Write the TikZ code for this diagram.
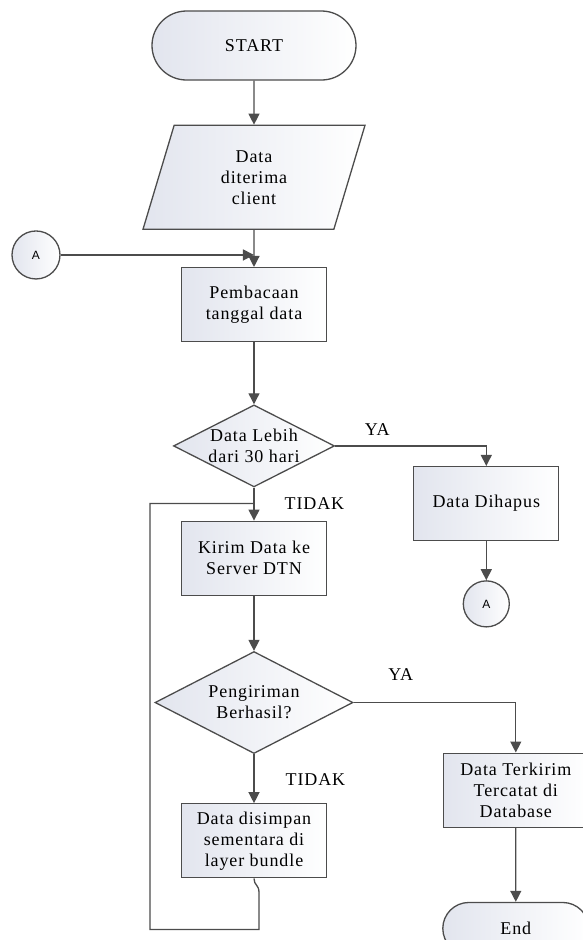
\documentclass[tikz,border=0pt]{standalone}
\usepackage{fontspec}
\setmainfont{Liberation Serif}[LetterSpace=5]
\newfontfamily\conafont{Liberation Sans}
\usetikzlibrary{shapes.geometric,shapes.misc,arrows.meta,positioning,calc}
\colorlet{lineC}{black!70}
\definecolor{shadeC}{RGB}{226,229,238}

\begin{document}
\begin{tikzpicture}[>={Triangle[length=11pt,width=11pt]}, node distance=40pt, line width=1.3pt, font=\fontsize{18}{21}\selectfont]
\useasboundingbox (-254pt,45.5pt) rectangle (329pt,-894.5pt);
\tikzstyle{box}=[draw=lineC, left color=shadeC, right color=white, text=black, align=center, inner sep=0pt]
\tikzstyle{terminal}=[box, rounded rectangle, minimum width=204pt, minimum height=69pt]
\tikzstyle{io}=[box, trapezium, trapezium left angle=60, trapezium right angle=120, trapezium stretches body, minimum width=222pt, minimum height=104pt]
\tikzstyle{process}=[box, rectangle, minimum width=145pt, minimum height=74pt]
\tikzstyle{decision}=[box, diamond, shape aspect=2, minimum width=161pt, minimum height=82pt]
\tikzstyle{connector}=[box, circle, minimum size=46pt, font=\conafont\fontsize{12}{14}\selectfont]
\tikzstyle{lbl}=[inner sep=0pt, text=black]
\tikzstyle{flow}=[draw=lineC, ->]

% main column
\node[terminal] (start) at (0,0) {START};
\node[io, below=44pt of start] (input) {Data\\diterima\\client};
\node[process, below=37pt of input] (read) {Pembacaan\\tanggal data};
\node[decision, below=62pt of read] (dec1) {Data Lebih\\dari 30 hari};
\node[process, below=33pt of dec1] (send) {Kirim Data ke\\Server DTN};
\node[decision, minimum width=198pt, minimum height=102pt, below=55pt of send] (dec2) {Pengiriman\\Berhasil?};
\node[process, below=49pt of dec2] (store) {Data disimpan\\sementara di\\layer bundle};

% right branches
\node[process, below right=20pt and 78pt of dec1.east] (del) {Data Dihapus};
\node[connector, below=39pt of del] (conA2) {A};
\node[process, below right=50pt and 89pt of dec2.east] (done) {Data Terkirim\\Tercatat di\\Database};
\node[terminal, minimum width=146pt, minimum height=52pt, below=74pt of done] (end) {End};

% off-page connector on the left
\node[connector, minimum size=48pt] (conA1) at ($(read.north)+(-218pt,12pt)$) {A};

% labels
\node[lbl, above right=10pt and 29pt of dec1.east] (ya1) {YA};
\node[lbl, below right=9pt and 30pt of dec1.south] (no1) {TIDAK};
\node[lbl, above right=21pt and 34pt of dec2.east] (ya2) {YA};
\node[lbl, below right=19pt and 31pt of dec2.south] (no2) {TIDAK};

\coordinate (merge) at (read.north |- conA1);
\coordinate (join) at ($(send.north)+(0,17pt)$);

\draw[flow] (start) -- (input);
\draw[flow] (input) -- (read);
\draw[flow] (conA1) -- (merge);
\draw[flow] (read) -- (dec1);
\draw[flow] (dec1.east) -| (del.north);
\draw[flow] (del) -- (conA2);
\draw[flow] (dec1) -- (send);
\draw[flow] (send) -- (dec2);
\draw[flow] (dec2.east) -| (done.north);
\draw[flow] (dec2) -- (store);
\draw[flow] (done) -- (end);
% back to sending
\draw[draw=lineC] (store.south) .. controls ($(store.south)+(0,-7pt)$) and ($(store.south)+(5pt,-6pt)$) .. ($(store.south)+(5pt,-14pt)$)
  -- ($(store.south)+(5pt,-51pt)$) -| ($(join)+(-104pt,0)$) -- (join);
\end{tikzpicture}
\end{document}
